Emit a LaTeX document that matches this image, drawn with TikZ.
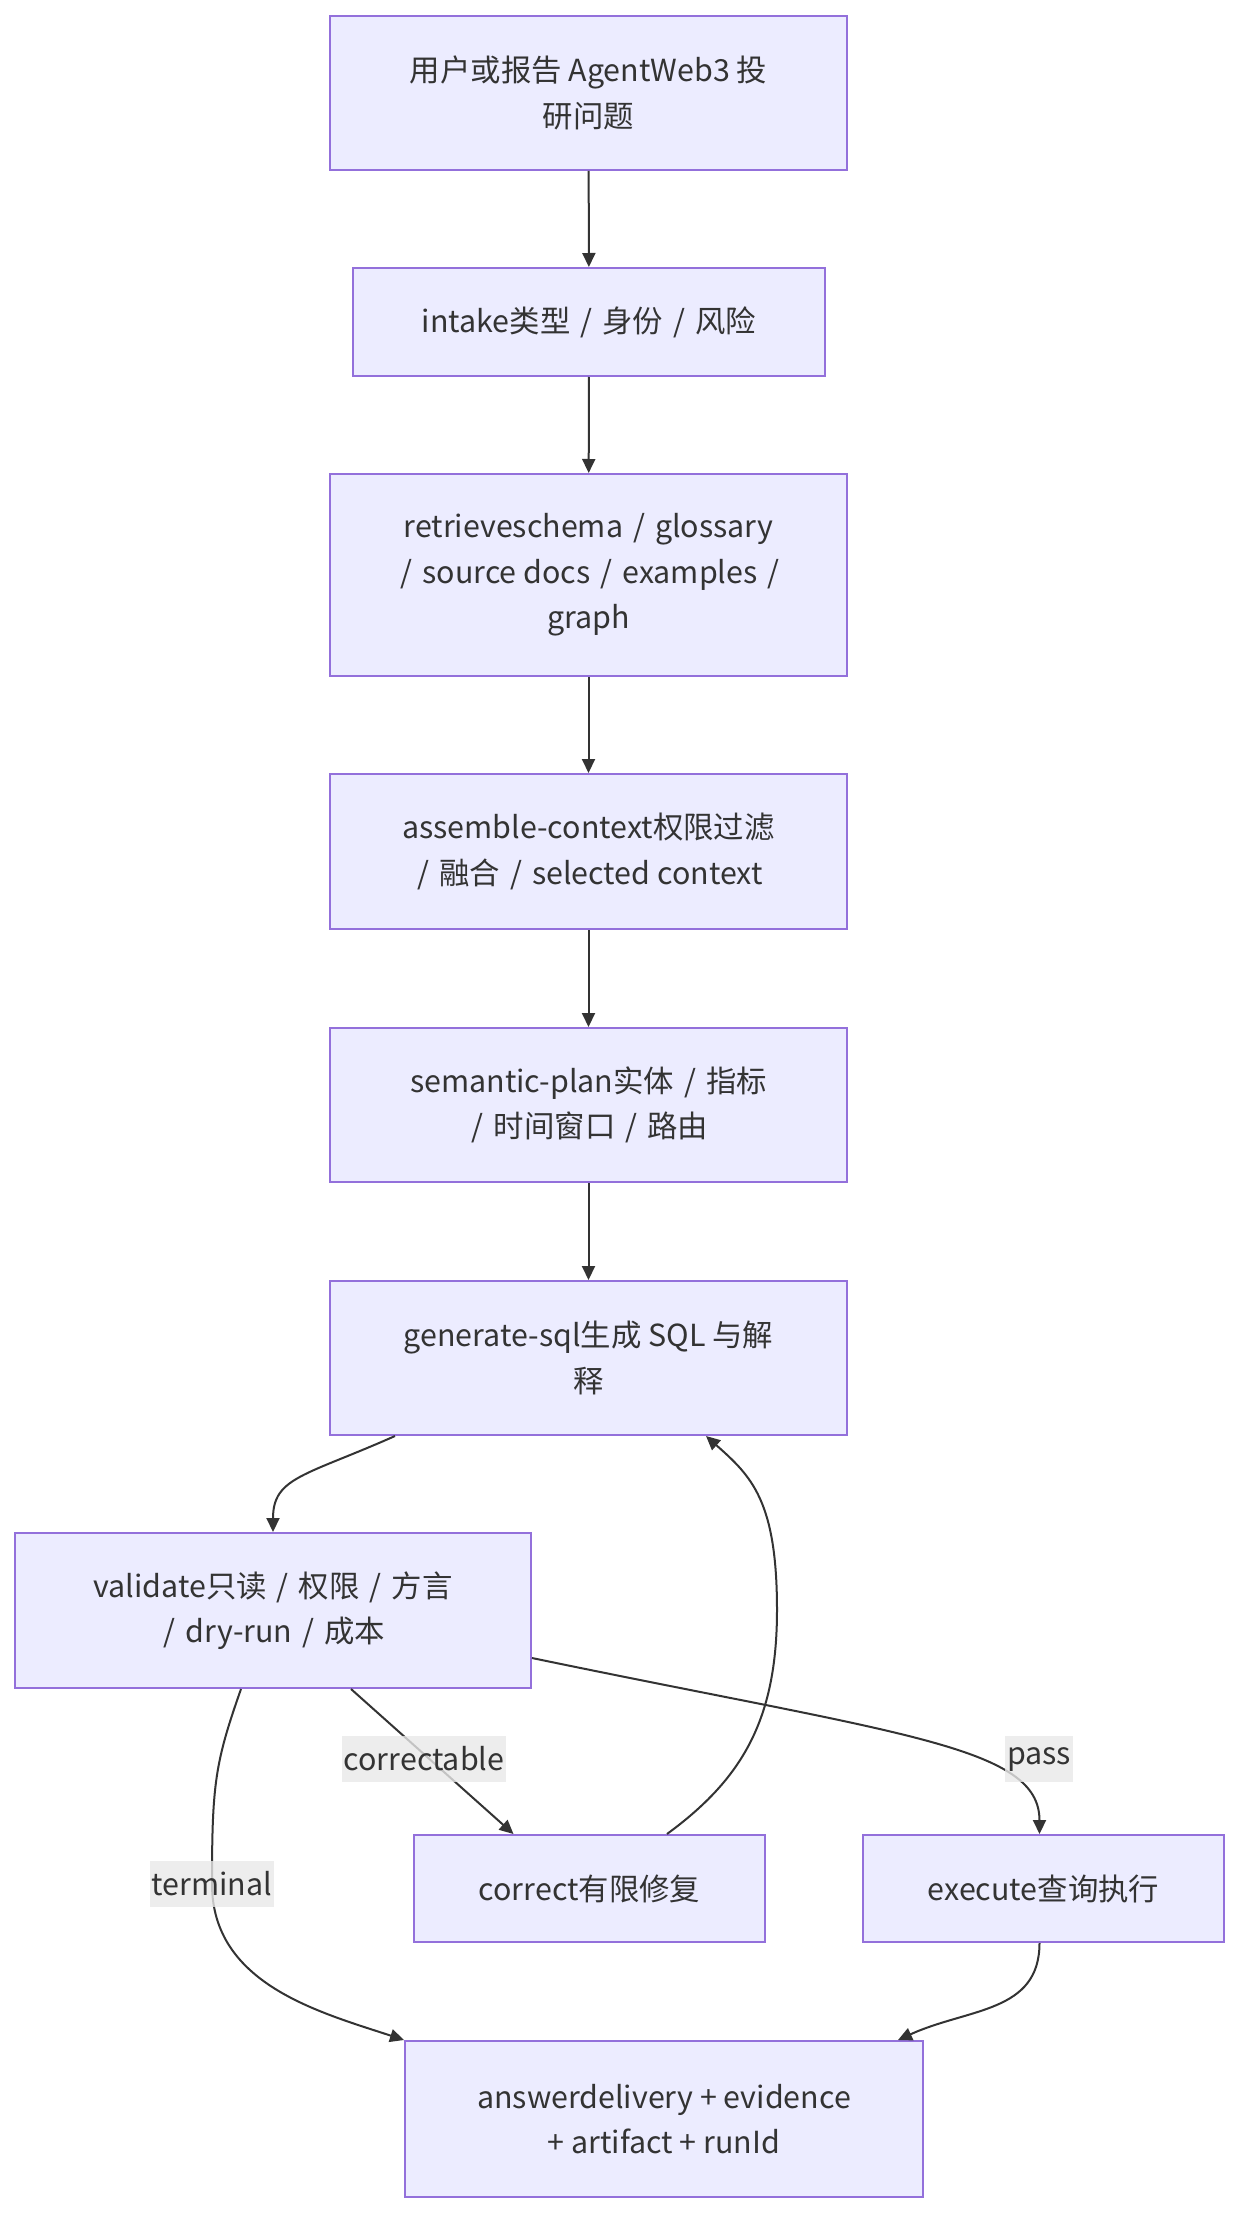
\documentclass[tikz,border=0pt]{standalone}
\usepackage{fontspec}
\setmainfont{Noto Sans CJK SC}
\usetikzlibrary{arrows.meta}

\definecolor{nodefill}{HTML}{ECECFF}
\definecolor{nodeborder}{HTML}{9370DB}
\definecolor{linegray}{HTML}{333333}
\definecolor{labelfill}{HTML}{E8E8E8}
\newcommand{\flowfont}{\fontsize{15.2}{22.8}\selectfont}
\newcommand{\slsep}{\hspace{1.6pt}/\hspace{1.6pt}}

\begin{document}
\begin{tikzpicture}[x=0.5pt, y=-0.5pt,
    box/.style={draw=nodeborder, fill=nodefill, line width=1pt, text=linegray,
        align=center, inner sep=0pt, font=\flowfont},
    flow/.style={draw=linegray, line width=1pt,
        -{Triangle[length=7pt, width=6.5pt]}},
    lbl/.style={fill=labelfill, fill opacity=0.8, text opacity=1, text=linegray,
        inner xsep=1pt, inner ysep=0pt, minimum height=23pt, font=\flowfont}]
\useasboundingbox (0,0) rectangle (1250,2236);

% Main column
\node[box, minimum width=258.5pt, minimum height=77pt] (ask) at (588.5,93)
    {用户或报告 AgentWeb3 投\\研问题};
\node[box, minimum width=236pt, minimum height=54pt] (intake) at (589,322)
    {intake类型 \slsep{} 身份 \slsep{} 风险};
\node[box, minimum width=258.5pt, minimum height=101pt] (retrieve) at (588.5,575)
    {retrieveschema \slsep{} glossary\\\slsep{} source docs \slsep{} examples \slsep\\graph};
\node[box, minimum width=258.5pt, minimum height=77.5pt] (assemble) at (588.5,851.5)
    {assemble-context权限过滤\\\slsep{} 融合 \slsep{} selected context};
\node[box, minimum width=258.5pt, minimum height=77pt] (plan) at (588.5,1105)
    {semantic-plan实体 \slsep{} 指标\\\slsep{} 时间窗口 \slsep{} 路由};
\node[box, minimum width=258.5pt, minimum height=77pt] (gensql) at (588.5,1358)
    {generate-sql生成 SQL 与解\\释};

% Branches
\node[box, minimum width=258pt, minimum height=77.5pt] (validate) at (273,1610.5)
    {validate只读 \slsep{} 权限 \slsep{} 方言\\\slsep{} dry-run \slsep{} 成本};
\node[box, minimum width=175.5pt, minimum height=53.5pt] (correct) at (589.5,1888.5)
    {correct有限修复};
\node[box, minimum width=180.5pt, minimum height=53.5pt] (execute) at (1043.5,1888.5)
    {execute查询执行};
\node[box, minimum width=259pt, minimum height=78pt] (answer) at (664,2119)
    {answerdelivery + evidence\\+ artifact + runId};

% Straight connectors
\draw[flow] (ask) -- (intake);
\draw[flow] (intake) -- (retrieve);
\draw[flow] (retrieve) -- (assemble);
\draw[flow] (assemble) -- (plan);
\draw[flow] (plan) -- (gensql);

% Curved connectors
\draw[flow] ([xshift=-96.75pt]gensql.south) .. controls +(-90,40) and +(0,-55) .. (validate.north);
\draw[flow] ([xshift=39pt]validate.south) -- ([xshift=-38pt]correct.north);
\draw[flow] ([yshift=-23.75pt]validate.east) .. controls +(371,77) and +(0,-88) .. ([xshift=-2pt]execute.north);
\coordinate (termbend) at (212,1884);
\draw[flow] ([xshift=-16pt]validate.south) .. controls +(-26,74) and +(0,-100) .. (termbend)
    .. controls +(0,100) and +(-85,-28) .. (answer.north west);
\coordinate (loopbend) at (777,1610);
\draw[flow] ([xshift=38.75pt]correct.north) .. controls +(75,-55) and +(0,110) .. (loopbend)
    .. controls +(0,-110) and +(45,40) .. ([xshift=58.75pt]gensql.south);
\draw[flow] ([xshift=-2pt]execute.south) .. controls +(0,70) and +(70,-32) .. ([xshift=117pt]answer.north);

% Edge labels
\node[lbl] (lcorr) at (424,1759) {correctable};
\node[lbl] (lpass) at (1039,1759) {pass};
\node[lbl] (lterm) at (212,1884) {terminal};
\end{tikzpicture}
\end{document}
